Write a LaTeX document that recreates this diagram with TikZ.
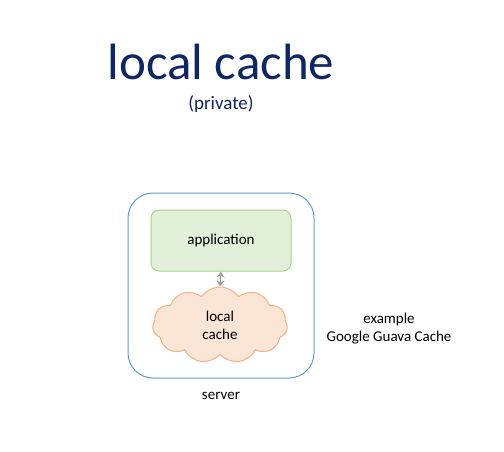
\documentclass[tikz,border=0pt]{standalone}
\usepackage{fontspec}
\setmainfont{Carlito}
\usetikzlibrary{shapes.symbols, arrows.meta, positioning}

\definecolor{titleblue}{RGB}{14,38,100}
\definecolor{serverblue}{RGB}{91,155,213}
\definecolor{appfill}{RGB}{226,240,217}
\definecolor{appdraw}{RGB}{169,209,142}
\definecolor{cachefill}{RGB}{251,229,214}
\definecolor{cachedraw}{RGB}{244,177,131}
\definecolor{linkgray}{RGB}{160,160,160}

\begin{document}
\begin{tikzpicture} [x = 1pt, y = 1pt, every node/.style = {font = \fontsize{15}{18}\selectfont, align = center}]
\useasboundingbox (0,0) rectangle (504,-451);
\node(title) at (221,-62) {\fontsize{51}{60}\selectfont\color{titleblue} local cache};
\node(priv) at (221,-104) {\fontsize{19}{22}\selectfont\color{titleblue} (private)};
\node(server) [draw = serverblue, line width = 1pt, rounded corners = 25pt, minimum width = 186pt, minimum height = 185pt] at (221,-285.5) {};
\node(app) [draw = appdraw, fill = appfill, line width = 1pt, rounded corners = 8pt, minimum width = 140pt, minimum height = 61pt] at (221,-240.5) {application};
\node(cache) [cloud, cloud puffs = 11, cloud puff arc = 110, aspect = 2, draw = cachedraw, fill = cachefill, line width = 1pt, minimum width = 135pt, minimum height = 76pt, inner sep = 0pt] at (220,-325) {local\\cache};
\node(srvlabel) [below = 10pt of server] {server};
\node(example) at (389,-329) {example\\Google Guava Cache};
\draw [linkgray, line width = 1.5pt, {Stealth[length = 6pt, width = 8pt]}-{Stealth[length = 6pt, width = 8pt]}] (app.south) -- (cache.north);
\end{tikzpicture}
\end{document}
